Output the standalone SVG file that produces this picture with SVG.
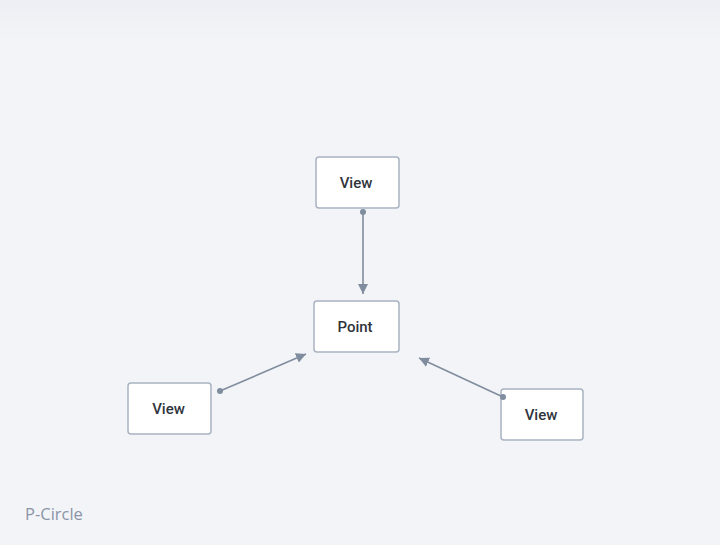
<svg xmlns="http://www.w3.org/2000/svg" width="720" height="545" viewBox="0 0 720 545">
<defs>
<linearGradient id="bg" x1="0" y1="0" x2="0" y2="1">
<stop offset="0" stop-color="#eeeff4"/>
<stop offset="0.08" stop-color="#f3f4f8"/>
<stop offset="1" stop-color="#f3f4f8"/>
</linearGradient>
<marker id="arr" viewBox="0 0 10 10" refX="10" refY="5" markerWidth="10" markerHeight="10" markerUnits="userSpaceOnUse" orient="auto">
<path d="M0,0 L10,5 L0,10 Z" fill="#7f8d9e"/>
</marker>
<marker id="dot" viewBox="0 0 6 6" refX="3" refY="3" markerWidth="6" markerHeight="6" markerUnits="userSpaceOnUse">
<circle cx="3" cy="3" r="3" fill="#7f8d9e"/>
</marker>
</defs>
<style>
.box{fill:#ffffff;stroke:#a9b3c1;stroke-width:1.5}
.lbl{font-family:Roboto,"Liberation Sans",sans-serif;font-size:15px;font-weight:500;fill:#30343c;text-anchor:middle;dominant-baseline:central}
.edge{stroke:#7f8d9e;stroke-width:1.6;fill:none;marker-start:url(#dot);marker-end:url(#arr)}
.cap{font-family:"Open Sans","Noto Sans",sans-serif;font-size:16.5px;fill:#8a94a6}
</style>
<rect width="720" height="545" fill="url(#bg)"/>
<g id="view-top">
<rect class="box" x="316" y="157" width="83" height="51" rx="3"/>
<text class="lbl" x="356" y="182.5">View</text>
</g>
<g id="point">
<rect class="box" x="314" y="301" width="85" height="51" rx="3"/>
<text class="lbl" x="355" y="326.5">Point</text>
</g>
<g id="view-left">
<rect class="box" x="128" y="383" width="83" height="51" rx="3"/>
<text class="lbl" x="168.5" y="408.5">View</text>
</g>
<g id="view-right">
<rect class="box" x="501" y="389" width="82" height="51" rx="3"/>
<text class="lbl" x="541" y="414.5">View</text>
</g>
<g id="connectors">
<line class="edge" x1="363" y1="212" x2="363" y2="294"/>
<line class="edge" x1="220" y1="391" x2="306" y2="354"/>
<line class="edge" x1="503" y1="397" x2="419" y2="358"/>
</g>
<text class="cap" x="25" y="520">P-Circle</text>
</svg>
